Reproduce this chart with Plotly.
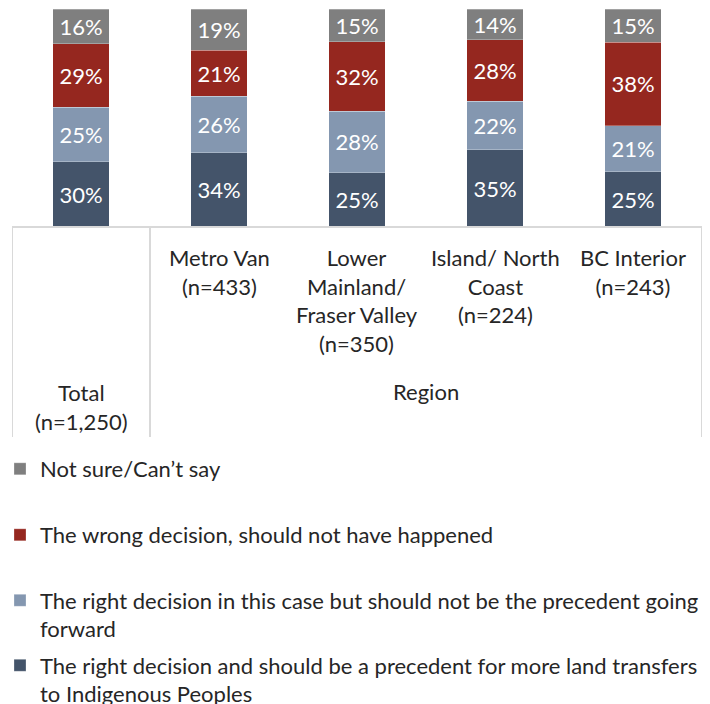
import plotly.graph_objects as go

# Survey results: share of respondents per answer, by group
groups = ["Total", "Metro Van", "Lower Mainland/ Fraser Valley", "Island/ North Coast", "BC Interior"]
group_labels = [
    "Total<br>(n=1,250)",
    "Metro Van<br>(n=433)",
    "Lower<br>Mainland/<br>Fraser Valley<br>(n=350)",
    "Island/ North<br>Coast<br>(n=224)",
    "BC Interior<br>(n=243)",
]
outer_label = "Region"

precedent = [30, 34, 25, 35, 25]       # right decision, should be a precedent
not_precedent = [25, 26, 28, 22, 21]   # right decision, not a precedent
wrong = [29, 21, 32, 28, 38]           # wrong decision
not_sure = [16, 19, 15, 14, 15]        # not sure / can't say

series = [
    ("The right decision and should be a precedent for more land transfers<br>to Indigenous Peoples", precedent, "#44546A", "legend4"),
    ("The right decision in this case but should not be the precedent going<br>forward", not_precedent, "#8497B0", "legend3"),
    ("The wrong decision, should not have happened", wrong, "#95271F", "legend2"),
    ("Not sure/Can\u2019t say", not_sure, "#7F7F7F", "legend"),
]

FONT = "Lato"
TEXT = "#262626"
GRID = "#D9D9D9"

fig = go.Figure()
for name, vals, color, leg in series:
    fig.add_trace(go.Bar(
        x=groups, y=vals, name=name,
        marker=dict(color=color, line=dict(color="rgba(255,255,255,0.35)", width=0.8)),
        text=[f"{v}%" for v in vals],
        textposition="inside", insidetextanchor="middle", textangle=0,
        constraintext="none",
        textfont=dict(family=FONT, size=22, color="white"),
        legend=leg, hoverinfo="skip",
    ))

W, H = 710, 704
L, R, T, B = 12, 8, 9, 477
plot_h = H - T - B


def py(pix):
    """Pixel row (from top) to paper y."""
    return (H - B - pix) / plot_h


# Category labels under the axis
for g, lab in zip(groups, group_labels):
    y_top = 377 if g == "Total" else 242
    fig.add_annotation(x=g, y=py(y_top), xref="x", yref="paper", text=lab,
                       showarrow=False, yanchor="top", align="center",
                       font=dict(family=FONT, size=22, color=TEXT))
fig.add_annotation(x=2.5, y=py(391), xref="x", yref="paper", text=outer_label,
                   showarrow=False, yanchor="middle",
                   font=dict(family=FONT, size=22, color=TEXT))

# Table-style dividers of the category axis
line = dict(color=GRID, width=2)
fig.add_shape(type="line", xref="x", yref="paper", x0=-0.5, x1=4.5, y0=0, y1=0, line=line)
for xv in (-0.5, 0.5, 4.5):
    fig.add_shape(type="line", xref="x", yref="paper", x0=xv, x1=xv, y0=0, y1=py(437), line=line)

legend_style = dict(xref="container", yref="container", x=0.0, xanchor="left",
                    yanchor="middle", valign="top", bgcolor="rgba(0,0,0,0)",
                    font=dict(family=FONT, size=22, color=TEXT), itemclick=False)
fig.update_layout(
    legend=dict(y=1 - 469 / H, **legend_style),
    legend2=dict(y=1 - 535 / H, **legend_style),
    legend3=dict(y=1 - 615 / H, **legend_style),
    legend4=dict(y=1 - 680 / H, **legend_style),
)

fig.update_layout(
    width=W, height=H,
    margin=dict(l=L, r=R, t=T, b=B, autoexpand=False),
    barmode="stack", barnorm="percent", bargap=0.594,
    plot_bgcolor="white", paper_bgcolor="white",
    font=dict(family=FONT, color=TEXT),
    showlegend=True,
    xaxis=dict(showticklabels=False, showgrid=False, zeroline=False, showline=False,
               range=[-0.5, 4.5], fixedrange=True),
    yaxis=dict(visible=False, range=[0, 100], fixedrange=True),
)

fig.write_html("out.html")
